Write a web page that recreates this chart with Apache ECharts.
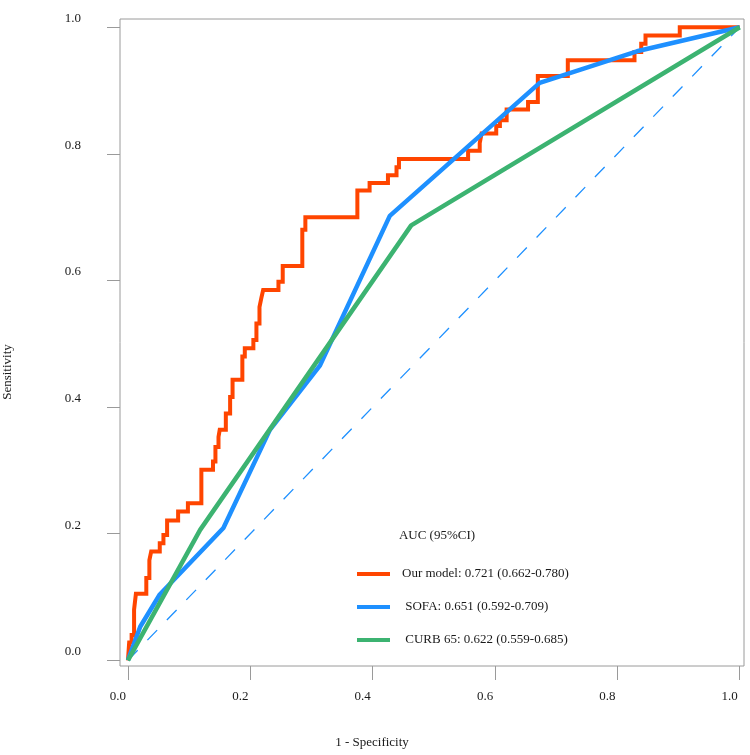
<!DOCTYPE html>
<html>
<head>
<meta charset="utf-8">
<script src="https://cdn.jsdelivr.net/npm/echarts@6/dist/echarts.min.js"></script>
<style>
html,body{margin:0;padding:0;background:#fff;}
#chart{width:750px;height:755px;}
</style>
</head>
<body>
<div id="chart"></div>
<script>
// ROC step points for "Our model" (x = 1 - specificity, y = sensitivity); drawn as horizontal-then-vertical steps
const ourModelFpr = [0,0.002,0.006,0.010,0.013,0.030,0.035,0.038,0.052,0.058,0.064,0.082,0.098,0.120,0.139,0.143,0.148,0.150,0.160,0.167,0.171,0.187,0.191,0.205,0.210,0.215,0.218,0.221,0.246,0.253,0.285,0.290,0.375,0.395,0.425,0.439,0.443,0.556,0.575,0.578,0.602,0.608,0.619,0.654,0.670,0.719,0.828,0.839,0.846,0.902,1.0];
const ourModelTpr = [0,0.028,0.040,0.080,0.105,0.130,0.158,0.172,0.185,0.198,0.221,0.235,0.248,0.301,0.314,0.337,0.353,0.364,0.390,0.416,0.443,0.480,0.493,0.506,0.532,0.558,0.572,0.585,0.598,0.623,0.680,0.700,0.742,0.754,0.766,0.779,0.792,0.805,0.817,0.832,0.844,0.853,0.870,0.882,0.923,0.948,0.961,0.974,0.987,1.0,1.0];
const sofaFpr = [0,0.020,0.052,0.156,0.232,0.314,0.428,0.673,0.832,1.0];
const sofaTpr = [0,0.053,0.104,0.209,0.364,0.466,0.702,0.912,0.962,1.0];
const curbFpr = [0,0.118,0.463,1.0];
const curbTpr = [0,0.206,0.687,1.0];
const refFpr = [0,1];
const refTpr = [0,1];
const tickValues = [0,0.2,0.4,0.6,0.8,1.0];
const seriesNames = ['Our model: 0.721 (0.662-0.780)', ' SOFA: 0.651 (0.592-0.709)', ' CURB 65: 0.622 (0.559-0.685)'];
const seriesColors = ['#FF4500', '#1E90FF', '#3CB371'];
const legendTitle = 'AUC (95%CI)';
const xTitle = '1 - Specificity';
const yTitle = 'Sensitivity';

const FONT = "'Liberation Serif', 'Times New Roman', serif";
const zip = (a, b) => a.map((v, i) => [v, b[i]]);

const chart = echarts.init(document.getElementById('chart'), null, {renderer: 'canvas'});
chart.setOption({
  animation: false,
  backgroundColor: '#ffffff',
  grid: {left: 120, right: 6, top: 19, bottom: 89, show: true, borderColor: '#9a9a9a', borderWidth: 1, backgroundColor: 'transparent'},
  xAxis: {
    type: 'value', min: -0.013, max: 1.007,
    axisLine: {show: false, onZero: false},
    splitLine: {show: false},
    axisTick: {show: true, length: 14, lineStyle: {color: '#9a9a9a', width: 1}, customValues: tickValues},
    axisLabel: {show: true, customValues: tickValues, margin: 24, padding: [0, 20, 0, 0],
      formatter: v => v.toFixed(1), color: '#1a1a1a', fontFamily: FONT, fontSize: 13}
  },
  yAxis: {
    type: 'value', min: -0.009, max: 1.013,
    axisLine: {show: false, onZero: false},
    splitLine: {show: false},
    axisTick: {show: true, length: 13, lineStyle: {color: '#9a9a9a', width: 1}, customValues: tickValues},
    axisLabel: {show: true, customValues: tickValues, margin: 39, verticalAlign: 'bottom', lineHeight: 17,
      formatter: v => v.toFixed(1), color: '#1a1a1a', fontFamily: FONT, fontSize: 13}
  },
  legend: {
    data: seriesNames,
    orient: 'vertical',
    left: 357, top: 565.5, padding: 0,
    itemWidth: 33, itemHeight: 4, itemGap: 16,
    icon: 'rect',
    textStyle: {color: '#1a1a1a', fontFamily: FONT, fontSize: 13, lineHeight: 14, padding: [0, 0, 3, 7]},
    selectedMode: false
  },
  graphic: [
    {type: 'text', x: 437, y: 536, style: {text: legendTitle, fill: '#1a1a1a', font: '13px ' + FONT, align: 'center', verticalAlign: 'middle'}},
    {type: 'text', x: 372, y: 743, style: {text: xTitle, fill: '#1a1a1a', font: '13px ' + FONT, align: 'center', verticalAlign: 'middle'}},
    {type: 'text', x: 8, y: 372, rotation: Math.PI / 2, style: {text: yTitle, fill: '#1a1a1a', font: '13px ' + FONT, align: 'center', verticalAlign: 'middle'}}
  ],
  series: [
    {name: 'reference', type: 'line', data: zip(refFpr, refTpr), symbol: 'none', silent: true,
      lineStyle: {color: '#1E90FF', width: 1.3, type: [14, 14]}, itemStyle: {color: '#1E90FF'}},
    {name: seriesNames[0], type: 'line', step: 'end', data: zip(ourModelFpr, ourModelTpr), symbol: 'none',
      lineStyle: {color: seriesColors[0], width: 4, join: 'miter'}, itemStyle: {color: seriesColors[0]}},
    {name: seriesNames[1], type: 'line', data: zip(sofaFpr, sofaTpr), symbol: 'none',
      lineStyle: {color: seriesColors[1], width: 4.5}, itemStyle: {color: seriesColors[1]}},
    {name: seriesNames[2], type: 'line', data: zip(curbFpr, curbTpr), symbol: 'none',
      lineStyle: {color: seriesColors[2], width: 4.5}, itemStyle: {color: seriesColors[2]}}
  ]
});
</script>
</body>
</html>
